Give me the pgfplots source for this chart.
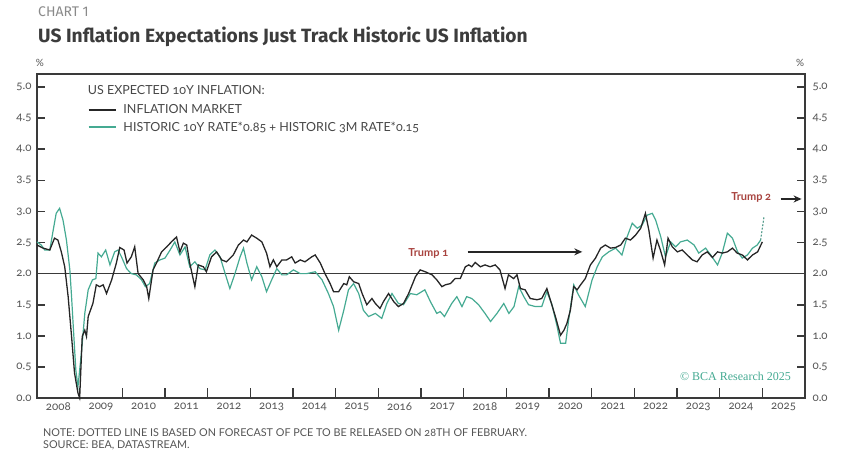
\documentclass[border=0pt]{standalone}
\usepackage{fontspec}
\setmainfont{Lato}[Numbers=OldStyle]
\newfontfamily\titlefont{Fira Sans}
\newfontfamily\seriffont{Liberation Serif}
\usepackage{pgfplots}
\pgfplotsset{compat=1.18}
\usetikzlibrary{arrows.meta}
\definecolor{tealc}{HTML}{45AA92}
\definecolor{blk}{HTML}{262626}
\definecolor{axgray}{HTML}{3A3A3A}
\definecolor{lblgray}{HTML}{555555}
\definecolor{trumpred}{HTML}{A8433F}
\definecolor{chartgray}{HTML}{8A8A8A}

\pgfplotstableread{
x y
2008.00 2.46
2008.14 2.41
2008.30 2.38
2008.41 2.57
2008.49 2.54
2008.57 2.35
2008.65 2.11
2008.73 1.63
2008.81 0.99
2008.88 0.40
2008.96 0.08
2009.00 0.00
2009.06 0.99
2009.12 1.09
2009.16 0.99
2009.20 1.31
2009.31 1.52
2009.39 1.82
2009.47 1.79
2009.55 1.82
2009.63 1.68
2009.75 1.90
2009.86 2.17
2009.94 2.42
2010.04 2.38
2010.11 2.17
2010.21 2.27
2010.29 2.43
2010.37 2.00
2010.49 1.90
2010.57 1.79
2010.62 1.60
2010.72 2.06
2010.80 2.17
2010.92 2.35
2011.04 2.43
2011.15 2.51
2011.27 2.59
2011.35 2.35
2011.43 2.49
2011.51 2.46
2011.58 2.17
2011.70 1.79
2011.78 2.14
2011.90 2.11
2011.97 2.03
2012.09 2.27
2012.21 2.35
2012.33 2.22
2012.44 2.19
2012.60 2.30
2012.72 2.46
2012.84 2.54
2012.92 2.51
2013.03 2.62
2013.15 2.57
2013.27 2.51
2013.38 2.33
2013.46 2.11
2013.54 2.22
2013.62 2.11
2013.74 2.22
2013.85 2.22
2013.97 2.27
2014.05 2.17
2014.17 2.22
2014.28 2.19
2014.44 2.27
2014.52 2.30
2014.64 2.17
2014.75 2.00
2014.87 1.84
2014.95 1.71
2015.07 1.71
2015.19 1.84
2015.26 1.82
2015.32 1.95
2015.42 1.87
2015.54 1.84
2015.62 1.68
2015.73 1.50
2015.85 1.60
2015.93 1.52
2016.04 1.44
2016.12 1.55
2016.24 1.68
2016.36 1.55
2016.47 1.47
2016.59 1.52
2016.71 1.68
2016.87 1.95
2016.98 2.06
2017.10 2.03
2017.26 1.98
2017.37 1.90
2017.49 1.79
2017.57 1.82
2017.69 1.84
2017.80 1.92
2017.92 1.92
2018.04 2.11
2018.12 2.14
2018.19 2.11
2018.27 2.18
2018.39 2.11
2018.50 2.14
2018.62 2.11
2018.74 2.14
2018.85 2.06
2018.97 1.76
2019.05 1.98
2019.17 1.92
2019.25 1.98
2019.33 1.76
2019.44 1.74
2019.56 1.60
2019.72 1.58
2019.83 1.60
2019.95 1.76
2020.03 1.58
2020.15 1.31
2020.27 1.01
2020.35 1.09
2020.42 1.20
2020.50 1.41
2020.58 1.79
2020.66 1.74
2020.74 1.82
2020.85 1.92
2020.97 2.14
2021.09 2.25
2021.21 2.41
2021.32 2.46
2021.44 2.41
2021.56 2.42
2021.68 2.46
2021.79 2.57
2021.91 2.54
2022.03 2.62
2022.15 2.73
2022.26 2.97
2022.34 2.70
2022.44 2.25
2022.53 2.54
2022.61 2.38
2022.71 2.14
2022.79 2.57
2022.89 2.43
2023.01 2.35
2023.12 2.38
2023.24 2.30
2023.36 2.22
2023.47 2.19
2023.59 2.30
2023.71 2.35
2023.83 2.26
2023.95 2.35
2024.06 2.33
2024.18 2.35
2024.30 2.41
2024.41 2.33
2024.53 2.30
2024.65 2.22
2024.77 2.30
2024.89 2.35
2025.00 2.51
}\marketdata

\pgfplotstableread{
x y
2008.00 2.51
2008.10 2.46
2008.18 2.38
2008.30 2.38
2008.38 2.70
2008.45 2.97
2008.53 3.05
2008.61 2.86
2008.69 2.54
2008.77 2.06
2008.81 1.63
2008.85 1.15
2008.91 0.45
2008.96 0.18
2009.00 0.45
2009.04 0.72
2009.12 1.36
2009.20 1.74
2009.30 1.90
2009.38 1.92
2009.43 2.33
2009.51 2.27
2009.61 2.38
2009.71 2.14
2009.82 2.35
2009.90 2.38
2009.98 2.27
2010.10 2.08
2010.21 2.00
2010.33 1.98
2010.45 1.90
2010.54 1.79
2010.64 1.84
2010.76 2.17
2010.88 2.22
2011.00 2.25
2011.12 2.38
2011.23 2.51
2011.35 2.30
2011.47 2.43
2011.58 2.11
2011.70 2.19
2011.82 2.08
2011.94 2.06
2012.05 2.30
2012.17 2.38
2012.29 2.27
2012.41 2.00
2012.52 1.76
2012.64 2.00
2012.76 2.27
2012.84 2.41
2012.92 2.17
2013.03 1.90
2013.15 2.11
2013.27 1.95
2013.38 1.71
2013.50 1.90
2013.62 2.08
2013.74 1.98
2013.85 1.98
2014.01 2.06
2014.17 2.00
2014.32 2.00
2014.52 2.03
2014.68 1.90
2014.83 1.68
2014.95 1.47
2015.07 1.09
2015.19 1.41
2015.30 1.74
2015.42 1.84
2015.54 1.68
2015.65 1.41
2015.77 1.31
2015.93 1.36
2016.08 1.28
2016.20 1.52
2016.32 1.68
2016.47 1.52
2016.59 1.50
2016.75 1.68
2016.90 1.66
2017.09 1.74
2017.22 1.55
2017.37 1.36
2017.45 1.39
2017.55 1.31
2017.72 1.52
2017.84 1.63
2017.96 1.47
2018.07 1.63
2018.19 1.60
2018.35 1.50
2018.50 1.36
2018.63 1.23
2018.78 1.36
2018.94 1.52
2019.06 1.36
2019.18 1.47
2019.29 1.79
2019.41 1.63
2019.52 1.50
2019.68 1.47
2019.83 1.47
2019.95 1.71
2020.07 1.50
2020.19 1.15
2020.27 0.88
2020.39 0.88
2020.46 1.25
2020.58 1.82
2020.69 1.66
2020.85 1.47
2021.01 1.90
2021.13 2.11
2021.25 2.27
2021.40 2.35
2021.56 2.41
2021.71 2.30
2021.83 2.59
2021.95 2.81
2022.07 2.73
2022.18 2.78
2022.30 2.94
2022.42 2.97
2022.50 2.86
2022.62 2.59
2022.73 2.27
2022.85 2.51
2022.97 2.43
2023.08 2.51
2023.24 2.54
2023.40 2.46
2023.51 2.33
2023.67 2.41
2023.79 2.30
2023.95 2.14
2024.06 2.33
2024.18 2.65
2024.30 2.57
2024.42 2.35
2024.53 2.25
2024.65 2.30
2024.77 2.41
2024.88 2.46
2024.96 2.54
}\historicdata

\pgfplotstableread{
x y
2024.96 2.54
2025.04 2.92
}\forecastdata

\begin{document}
\begin{tikzpicture}[x=1pt,y=1pt]
\useasboundingbox (-37,-54) rectangle (811,398);
% titles
\node[anchor=base west, inner sep=0, text=chartgray, font=\titlefont\fontsize{14}{16}\selectfont] at (1,381) {CHART 1};
\node[anchor=base west, inner sep=0, text=blk!90, font=\titlefont\bfseries\fontsize{19.2}{22}\selectfont] at (1,355) {US Inflation Expectations Just Track Historic US Inflation};
% notes
\node[anchor=base west, inner sep=0, text=lblgray, font=\fontsize{10.8}{12}\selectfont] at (6,-38) {NOTE: DOTTED LINE IS BASED ON FORECAST OF PCE TO BE RELEASED ON 28TH OF FEBRUARY.};
\node[anchor=base west, inner sep=0, text=lblgray, font=\fontsize{10.8}{12}\selectfont] at (6,-50) {SOURCE: BEA, DATASTREAM.};

\begin{axis}[
  at={(0,0)}, anchor=south west,
  width=768pt, height=324pt, scale only axis,
  xmin=2008, xmax=2026, ymin=0, ymax=5.21,
  axis line style={axgray, line width=1.8pt},
  every tick/.style={axgray, line width=1.6pt},
  tick align=inside,
  ytick={0,0.5,...,5},
  ytick pos=both, yticklabel pos=left,
  major tick length=8pt,
  yticklabel style={text=lblgray, font=\fontsize{11.5}{13}\selectfont, xshift=-2pt},
  y tick label style={/pgf/number format/.cd, fixed, fixed zerofill, precision=1, assume math mode=true},
  xtick={2009,2010,...,2025},
  xticklabels={},
  xtick pos=bottom,
  extra x ticks={2008.5,2009.5,...,2025.5},
  extra x tick labels={2008,2009,2010,2011,2012,2013,2014,2015,2016,2017,2018,2019,2020,2021,2022,2023,2024,2025},
  extra x tick style={major tick length=0pt, xticklabel style={text=lblgray, font=\fontsize{11.5}{13}\selectfont, yshift=-1pt}},
  legend style={at={(rel axis cs:0.066,0.912)}, anchor=north west, draw=none, fill=none,
    font=\fontsize{12.5}{14}\selectfont, text=blk!85, row sep=2.5pt, inner sep=0pt,
    /tikz/every odd column/.append style={column sep=5pt}},
  legend cell align=left,
  legend image code/.code={\draw[#1] (0pt,0pt) -- (27pt,0pt);},
  clip=false,
]
\addlegendimage{blk, line width=1.4pt}
\addlegendentry{INFLATION MARKET}
\addlegendimage{tealc, line width=1.6pt}
\addlegendentry{HISTORIC 10Y RATE*0.85 + HISTORIC 3M RATE*0.15}

% frame and tick marks drawn through the axis
\addplot[axgray, line width=1.6pt, forget plot] coordinates {(2008,0) (2026,0) (2026,5.21) (2008,5.21) (2008,0)};
\pgfplotsinvokeforeach{0.5,1.0,1.5,2.0,2.5,3.0,3.5,4.0,4.5,5.0}{
  \addplot[axgray, line width=1.4pt, forget plot] coordinates {(2008,#1) (2008.18,#1)};
  \addplot[axgray, line width=1.4pt, forget plot] coordinates {(2025.82,#1) (2026,#1)};
}
\pgfplotsinvokeforeach{2009,2010,2011,2012,2013,2014,2015,2016,2017,2018,2019,2020,2021,2022,2023,2024,2025}{
  \addplot[axgray, line width=1.4pt, forget plot] coordinates {(#1,0) (#1,0.16)};
}

\addplot[axgray, line width=1.5pt, forget plot] coordinates {(2008,2) (2026,2)};
\addplot[tealc, line width=1.2pt, forget plot] table {\historicdata};
\addplot[tealc!70!gray, line width=1.1pt, dash pattern=on 2pt off 1.5pt, forget plot] table {\forecastdata};
\addplot[blk, line width=1.3pt, forget plot] table {\marketdata};

\node[anchor=west, inner sep=0, text=blk!85, font=\fontsize{12.5}{14}\selectfont] at (rel axis cs:0.066,0.951) {US EXPECTED 10Y INFLATION:};
\node[anchor=south, text=lblgray, font=\fontsize{10}{11}\selectfont, inner sep=0] at ([xshift=3pt,yshift=7pt]rel axis cs:0,1) {\%};
\node[anchor=south, text=lblgray, font=\fontsize{10}{11}\selectfont, inner sep=0] at ([xshift=-5pt,yshift=7pt]rel axis cs:1,1) {\%};

\node[text=trumpred, font=\bfseries\fontsize{11}{12}\selectfont] at (axis cs:2017.17,2.33) {Trump 1};
\draw[-{Stealth[length=8pt,width=7pt]}, blk, line width=1.4pt] (axis cs:2018.09,2.35) -- (axis cs:2020.78,2.35);
\node[text=trumpred, font=\bfseries\fontsize{11}{12}\selectfont] at (axis cs:2024.74,3.22) {Trump 2};
\draw[-{Stealth[length=8pt,width=7pt]}, blk, line width=1.4pt] (axis cs:2025.43,3.2) -- (axis cs:2025.92,3.2);
\node[text=tealc, font=\seriffont\fontsize{12}{13}\selectfont] at (axis cs:2024.37,0.34) {\textcopyright{} BCA Research 2025};
\end{axis}
\begin{axis}[
  at={(0,0)}, anchor=south west,
  width=768pt, height=324pt, scale only axis,
  xmin=2008, xmax=2026, ymin=0, ymax=5.21,
  axis x line=none, axis y line*=right,
  y axis line style={draw=none},
  ytick={0,0.5,...,5}, major tick length=0pt,
  yticklabel style={text=lblgray, font=\fontsize{11.5}{13}\selectfont, xshift=4pt},
  y tick label style={/pgf/number format/.cd, fixed, fixed zerofill, precision=1, assume math mode=true},
]
\end{axis}
\end{tikzpicture}
\end{document}
